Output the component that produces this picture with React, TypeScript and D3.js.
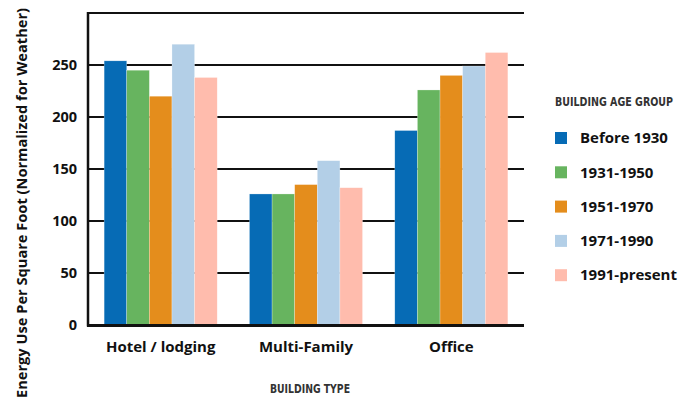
import React from "react";
import * as d3 from "d3";

const categories = ["Hotel / lodging", "Multi-Family", "Office"];
const series = ["Before 1930", "1931-1950", "1951-1970", "1971-1990", "1991-present"];
const colors = ["#066bb5", "#67b45f", "#e48d1c", "#b3cfe7", "#ffbcad"];
const hotelValues = [254, 245, 220, 270, 238];
const multiFamilyValues = [126, 126, 135, 158, 132];
const officeValues = [187, 226, 240, 249, 262];
const yTicks = [0, 50, 100, 150, 200, 250];

const values = [hotelValues, multiFamilyValues, officeValues];

export default function App() {
  const W = 691, H = 401;
  const left = 88, right = 524, top = 13, bottom = 325;
  const x0 = d3.scaleBand<string>().domain(categories).range([left, right]).paddingInner(0.222).paddingOuter(0.111);
  const x1 = d3.scaleBand<string>().domain(series).range([0, x0.bandwidth()]).padding(0);
  const y = d3.scaleLinear().domain([0, 300]).range([bottom, top]);
  const font = "'Open Sans', sans-serif";
  const cond = "'DejaVu Sans', sans-serif";
  const sx = 0.78;

  return (
    <svg width={W} height={H} style={{ position: "absolute", left: 0, top: 0, background: "#fff" }}>
      {[...yTicks.slice(1), 300].map((t) => (
        <line key={t} x1={left} x2={right} y1={y(t)} y2={y(t)} stroke="#111" strokeWidth={2} />
      ))}
      {categories.map((c, ci) => (
        <g key={c} transform={`translate(${x0(c)},0)`}>
          {series.map((s, si) => (
            <rect
              key={s}
              x={x1(s)}
              y={y(values[ci][si])}
              width={x1.bandwidth()}
              height={bottom - y(values[ci][si])}
              fill={colors[si]}
              stroke="#fff"
              strokeOpacity={0.5}
              strokeWidth={0.5}
            />
          ))}
        </g>
      ))}
      <line x1={left} x2={left} y1={top - 1} y2={bottom + 1.5} stroke="#111" strokeWidth={2.5} />
      <line x1={left - 1} x2={right} y1={bottom + 0.5} y2={bottom + 0.5} stroke="#111" strokeWidth={3} />
      {yTicks.map((t) => (
        <text key={t} x={77} y={y(t)} dy="0.35em" textAnchor="end" fontFamily={font} fontWeight={700} fontSize={14.5} fill="#111">
          {t}
        </text>
      ))}
      {categories.map((c) => (
        <text key={c} x={(x0(c) as number) + x0.bandwidth() / 2} y={352} textAnchor="middle" fontFamily={font} fontWeight={700} fontSize={15} fill="#111">
          {c}
        </text>
      ))}
      <g transform={`translate(270,393) scale(${sx},1)`}>
        <text x={0} y={0} fontFamily={cond} fontWeight={700} fontSize={13} fill="#333" textLength={80 / sx} lengthAdjust="spacingAndGlyphs">
          BUILDING TYPE
        </text>
      </g>
      <text transform="translate(27,203) rotate(-90)" textAnchor="middle" fontFamily={font} fontWeight={700} fontSize={14.5} fill="#111" textLength={390} lengthAdjust="spacingAndGlyphs">
        Energy Use Per Square Foot (Normalized for Weather)
      </text>
      <g transform={`translate(555,106) scale(${sx},1)`}>
        <text x={0} y={0} fontFamily={cond} fontWeight={700} fontSize={13} fill="#333" textLength={118 / sx} lengthAdjust="spacingAndGlyphs">
          BUILDING AGE GROUP
        </text>
      </g>
      {series.map((s, i) => (
        <g key={s} transform={`translate(555,${138 + i * 34.3})`}>
          <rect x={0} y={-6} width={12} height={12} fill={colors[i]} />
          <text x={25} y={0} dy="0.35em" fontFamily={font} fontWeight={700} fontSize={15} fill="#111">
            {s}
          </text>
        </g>
      ))}
    </svg>
  );
}
